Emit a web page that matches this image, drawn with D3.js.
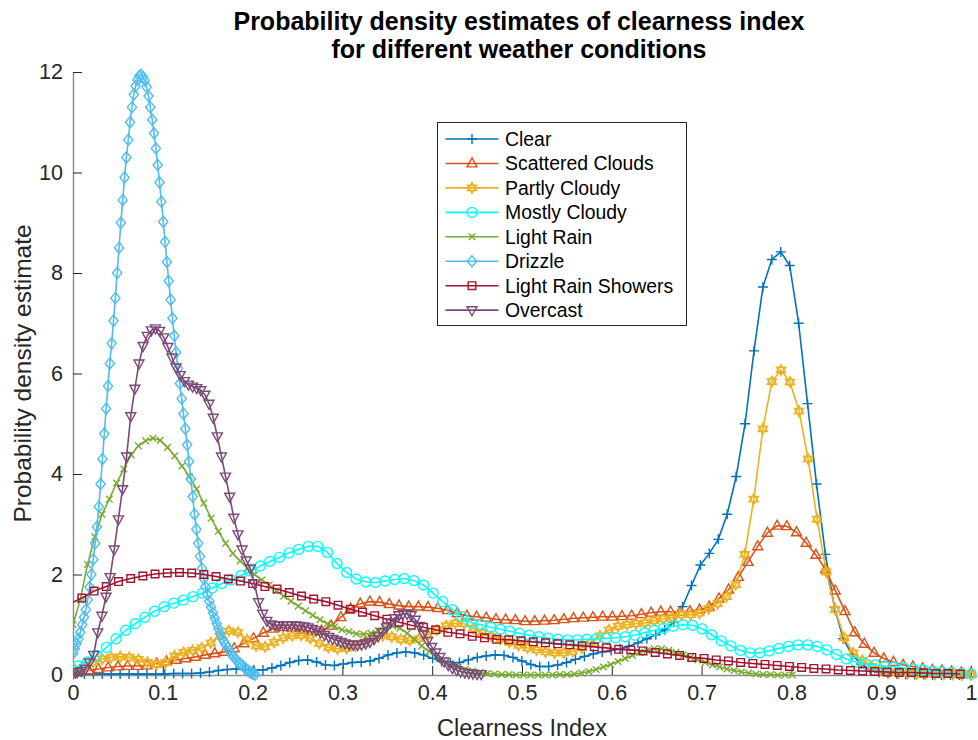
<!DOCTYPE html>
<html>
<head>
<meta charset="utf-8">
<script src="https://cdn.jsdelivr.net/npm/d3@7"></script>
<style>
  body { margin: 0; background: #fff; }
  text { font-family: "Liberation Sans", Arial, Helvetica, sans-serif; }
</style>
</head>
<body>
<svg id="chart" width="978" height="740"></svg>
<script>
// weather conditions, in plot order
const seriesNames = ["Clear", "Scattered Clouds", "Partly Cloudy", "Mostly Cloudy",
                     "Light Rain", "Drizzle", "Light Rain Showers", "Overcast"];
const seriesColors = ["#0072BD", "#D95319", "#EDB120", "#00FFFF",
                      "#77AC30", "#4DBEEE", "#A2142F", "#7B4A78"];
const seriesMarkers = ["plus", "triangle", "hexagram", "circle",
                       "cross", "diamond", "square", "triangleDown"];

// first / last point of each ksdensity evaluation grid (evenly spaced)
const clearRange = [0.0028, 0.987];
const scatteredRange = [-0.004, 1.0];
const partlyRange = [0.0023, 1.0];
const mostlyRange = [-0.0055, 1.0];
const lightRainRange = [0, 0.801];
const drizzleRange = [0, 0.203];
const showersRange = [-0.0037, 0.988];
const overcastRange = [0, 0.4546];

// density estimates
const clearY = [0.02,0.02,0.02,0.02,0.02,0.02,0.02,0.02,0.02,0.02,
  0.02,0.03,0.03,0.03,0.04,0.06,0.09,0.11,0.12,0.11,
  0.10,0.10,0.14,0.19,0.25,0.29,0.30,0.26,0.20,0.19,
  0.22,0.25,0.26,0.28,0.33,0.40,0.44,0.46,0.44,0.40,
  0.33,0.27,0.24,0.25,0.30,0.35,0.38,0.40,0.39,0.35,
  0.28,0.21,0.17,0.17,0.20,0.25,0.31,0.37,0.42,0.46,
  0.49,0.52,0.57,0.64,0.72,0.80,0.90,1.05,1.36,1.78,
  2.19,2.42,2.70,3.20,3.95,5.00,6.45,7.72,8.27,8.42,
  8.15,7.00,5.40,3.80,2.40,1.35,0.72,0.40,0.22,0.11,
  0.05,0.03,0.02,0.01,0.01,0.01,0.00,0.00,0.00,0.00];

const scatteredY = [0.02,0.05,0.09,0.12,0.15,0.17,0.18,0.18,0.19,0.23,
  0.27,0.30,0.33,0.36,0.40,0.43,0.46,0.53,0.63,0.73,
  0.84,0.92,0.95,0.94,0.90,0.86,0.88,0.98,1.15,1.32,
  1.42,1.46,1.45,1.41,1.38,1.36,1.36,1.35,1.33,1.29,
  1.23,1.18,1.16,1.14,1.11,1.10,1.09,1.07,1.07,1.08,
  1.09,1.11,1.13,1.14,1.15,1.16,1.16,1.17,1.18,1.21,
  1.24,1.26,1.26,1.26,1.27,1.30,1.36,1.52,1.70,1.95,
  2.25,2.56,2.83,2.97,2.96,2.84,2.63,2.39,2.10,1.68,
  1.27,0.85,0.62,0.44,0.33,0.26,0.20,0.17,0.13,0.10,
  0.09,0.07,0.05,0.04];

const partlyY = [0.10,0.15,0.25,0.32,0.35,0.36,0.35,0.31,0.25,0.21,
  0.25,0.38,0.45,0.49,0.54,0.64,0.78,0.88,0.85,0.70,
  0.58,0.56,0.65,0.74,0.78,0.79,0.73,0.63,0.55,0.52,
  0.53,0.58,0.66,0.74,0.78,0.76,0.71,0.69,0.72,0.80,
  0.90,0.98,1.03,1.02,0.93,0.84,0.77,0.71,0.65,0.59,
  0.54,0.50,0.46,0.44,0.44,0.47,0.54,0.65,0.78,0.90,
  0.97,1.00,1.02,1.04,1.08,1.12,1.15,1.20,1.20,1.23,
  1.32,1.42,1.56,1.80,2.40,3.50,4.90,5.84,6.07,5.83,
  5.25,4.30,3.10,2.05,1.30,0.74,0.44,0.29,0.17,0.11,
  0.06,0.04,0.03,0.02,0.02,0.01,0.01,0.01,0.00,0.00];

const mostlyY = [0.12,0.18,0.26,0.39,0.55,0.72,0.89,1.02,1.15,1.27,
  1.36,1.43,1.49,1.56,1.63,1.73,1.82,1.89,1.98,2.07,
  2.17,2.26,2.34,2.43,2.50,2.56,2.56,2.44,2.22,2.04,
  1.91,1.85,1.84,1.87,1.90,1.92,1.88,1.79,1.63,1.46,
  1.30,1.16,1.04,1.00,0.95,0.91,0.87,0.83,0.79,0.76,
  0.73,0.71,0.70,0.70,0.71,0.72,0.73,0.74,0.76,0.79,
  0.84,0.89,0.93,0.97,1.00,0.99,0.92,0.80,0.68,0.58,
  0.49,0.44,0.44,0.48,0.53,0.57,0.60,0.60,0.57,0.50,
  0.41,0.32,0.26,0.22,0.20,0.18,0.16,0.14,0.12,0.10,
  0.08,0.06,0.05,0.03,0.02];

const lightRainY = [1.00,1.50,2.20,2.75,3.20,3.50,3.82,4.10,4.38,4.56,
  4.66,4.71,4.67,4.53,4.36,4.16,3.95,3.70,3.42,3.12,
  2.86,2.62,2.42,2.27,2.13,2.00,1.89,1.79,1.68,1.57,
  1.47,1.37,1.28,1.19,1.10,1.02,0.96,0.90,0.86,0.82,
  0.81,0.83,0.88,0.94,0.97,0.93,0.83,0.71,0.58,0.47,
  0.37,0.29,0.22,0.16,0.11,0.08,0.05,0.03,0.02,0.01,
  0.01,0.00,0.00,0.00,0.00,0.00,0.00,0.01,0.01,0.02,
  0.04,0.07,0.11,0.16,0.21,0.27,0.33,0.39,0.45,0.49,
  0.52,0.52,0.49,0.45,0.40,0.35,0.30,0.25,0.20,0.16,
  0.12,0.09,0.06,0.04,0.02,0.01,0.01,0.00,0.00,0.00];

const drizzleY = [0.43,0.52,0.62,0.72,0.85,1.00,1.15,1.30,1.50,1.75,
  2.00,2.30,2.62,2.95,3.35,3.80,4.30,4.80,5.30,5.75,
  6.20,6.60,7.05,7.50,8.00,8.50,9.00,9.45,9.90,10.30,
  10.65,11.00,11.30,11.55,11.72,11.84,11.92,11.94,11.90,11.83,
  11.70,11.52,11.30,11.05,10.78,10.48,10.15,9.80,9.42,9.02,
  8.62,8.22,7.84,7.47,7.10,6.75,6.42,6.10,5.80,5.50,
  5.20,4.90,4.58,4.25,3.90,3.55,3.20,2.90,2.62,2.36,
  2.12,1.92,1.75,1.60,1.47,1.35,1.24,1.13,1.02,0.92,
  0.82,0.73,0.66,0.60,0.54,0.48,0.42,0.37,0.33,0.29,
  0.25,0.22,0.19,0.15,0.12,0.09,0.06,0.04,0.02,0.01];

const showersY = [1.42,1.53,1.67,1.76,1.86,1.92,1.97,2.01,2.03,2.04,
  2.03,2.00,1.96,1.91,1.87,1.82,1.76,1.71,1.64,1.57,
  1.51,1.46,1.39,1.31,1.25,1.18,1.11,1.05,0.99,0.95,
  0.90,0.85,0.82,0.77,0.74,0.71,0.70,0.68,0.66,0.64,
  0.62,0.60,0.58,0.56,0.54,0.51,0.50,0.48,0.45,0.42,
  0.39,0.35,0.33,0.30,0.28,0.25,0.23,0.21,0.19,0.17,
  0.15,0.13,0.12,0.10,0.09,0.08,0.07,0.06,0.05,0.05,
  0.04,0.03,0.03,0.02];

const overcastY = [0.03,0.06,0.08,0.12,0.25,0.40,0.85,1.18,1.56,1.95,
  2.50,3.10,3.70,4.35,5.15,5.70,6.20,6.55,6.75,6.86,
  6.90,6.85,6.72,6.53,6.32,6.12,5.97,5.85,5.78,5.74,
  5.71,5.67,5.58,5.40,5.12,4.75,4.35,3.95,3.55,3.13,
  2.80,2.50,2.28,2.12,1.82,1.45,1.22,1.08,1.01,0.99,
  0.99,0.99,0.99,0.99,0.99,0.98,0.97,0.95,0.92,0.89,
  0.85,0.80,0.76,0.72,0.69,0.66,0.63,0.61,0.60,0.60,
  0.61,0.63,0.66,0.71,0.77,0.86,0.95,1.05,1.13,1.19,
  1.22,1.22,1.19,1.10,0.98,0.82,0.68,0.56,0.45,0.36,
  0.27,0.20,0.14,0.10,0.07,0.05,0.04,0.03,0.02,0.02];

const xTicks = [0, 0.1, 0.2, 0.3, 0.4, 0.5, 0.6, 0.7, 0.8, 0.9, 1];
const yTicks = [0, 2, 4, 6, 8, 10, 12];

const ranges = [clearRange, scatteredRange, partlyRange, mostlyRange,
                lightRainRange, drizzleRange, showersRange, overcastRange];
const values = [clearY, scatteredY, partlyY, mostlyY,
                lightRainY, drizzleY, showersY, overcastY];

const series = seriesNames.map((name, k) => {
  const r = ranges[k], ys = values[k], n = ys.length;
  return {
    name: name,
    color: seriesColors[k],
    marker: seriesMarkers[k],
    points: ys.map((v, i) => ({ x: r[0] + i * (r[1] - r[0]) / (n - 1), y: v }))
  };
});

const margin = { top: 72, right: 7, bottom: 65, left: 73 },
      width = 978 - margin.left - margin.right,
      height = 740 - margin.top - margin.bottom;

const svg = d3.select("#chart");
const g = svg.append("g")
    .attr("transform", "translate(" + margin.left + "," + margin.top + ")");

const x = d3.scaleLinear().domain([0, 1]).range([0, width]);
const y = d3.scaleLinear().domain([0, 12]).range([height, 0]);

function markerPath(type) {
  switch (type) {
    case "plus": return "M-5,0H5M0,-5V5";
    case "triangle": return "M0,-5.6L5,3.4L-5,3.4Z";
    case "triangleDown": return "M0,5.6L5,-3.4L-5,-3.4Z";
    case "hexagram": return "M0,-5.4L4.6,2.7L-4.6,2.7ZM0,5.4L4.6,-2.7L-4.6,-2.7Z";
    case "circle": return "M5,0A5,5 0 1,1 -5,0A5,5 0 1,1 5,0Z";
    case "cross": return "M-3.3,-3.3L3.3,3.3M-3.3,3.3L3.3,-3.3";
    case "diamond": return "M0,-5.6L4.6,0L0,5.6L-4.6,0Z";
    case "square": return "M-3.8,-3.8H3.8V3.8H-3.8Z";
  }
}

// axes
const xAxis = g.append("g")
   .attr("transform", "translate(0," + height + ")")
   .call(d3.axisBottom(x).tickValues(xTicks).tickFormat(d3.format("~g"))
         .tickSizeInner(-9).tickSizeOuter(0).tickPadding(10));
const yAxis = g.append("g")
   .call(d3.axisLeft(y).tickValues(yTicks)
         .tickSizeInner(-9).tickSizeOuter(0).tickPadding(10));

[xAxis, yAxis].forEach(a => {
  a.select(".domain").attr("stroke", "#8a8a8a").attr("stroke-width", 1.4);
  a.selectAll(".tick line").attr("stroke", "#262626");
  a.selectAll(".tick text")
    .attr("fill", "#262626")
    .style("font-size", "21.5px")
    .style("font-family", "'Liberation Sans', Arial, sans-serif");
});

// clip like the axes box
svg.append("defs").append("clipPath").attr("id", "plotClip")
   .append("rect").attr("x", 0).attr("y", -10).attr("width", width + 8).attr("height", height + 20);

const plot = g.append("g").attr("clip-path", "url(#plotClip)");

const line = d3.line().x(d => x(d.x)).y(d => y(d.y));

series.forEach(s => {
  const sg = plot.append("g");
  sg.append("path")
    .datum(s.points)
    .attr("fill", "none")
    .attr("stroke", s.color)
    .attr("stroke-width", 1.6)
    .attr("d", line);
  sg.selectAll(".mk")
    .data(s.points.filter(d => d.x >= 0 && d.x <= 1.0005))
    .enter().append("path")
    .attr("class", "mk")
    .attr("transform", d => "translate(" + x(d.x) + "," + y(d.y) + ")")
    .attr("d", markerPath(s.marker))
    .attr("fill", "none")
    .attr("stroke", s.color)
    .attr("stroke-width", 1.4);
});

// legend
const legend = svg.append("g").attr("transform", "translate(437.5,122.5)");
legend.append("rect")
   .attr("width", 249).attr("height", 203)
   .attr("fill", "#fff").attr("stroke", "#262626").attr("stroke-width", 1);

const items = legend.selectAll(".item")
   .data(series)
   .enter().append("g")
   .attr("class", "item")
   .attr("transform", (d, i) => "translate(0," + (16.5 + i * 24.45) + ")");
items.append("line")
   .attr("x1", 8).attr("x2", 61)
   .attr("stroke", d => d.color).attr("stroke-width", 1.6);
items.append("path")
   .attr("transform", "translate(34.5,0)")
   .attr("d", d => markerPath(d.marker))
   .attr("fill", "none")
   .attr("stroke", d => d.color)
   .attr("stroke-width", 1.4);
items.append("text")
   .attr("x", 67.5).attr("y", 7)
   .attr("fill", "#000")
   .style("font-size", "19.4px")
   .text(d => d.name);

// titles
svg.append("text")
   .attr("x", 519).attr("y", 30)
   .attr("text-anchor", "middle")
   .style("font-size", "25px").style("font-weight", "bold")
   .text("Probability density estimates of clearness index");
svg.append("text")
   .attr("x", 519).attr("y", 58)
   .attr("text-anchor", "middle")
   .style("font-size", "25px").style("font-weight", "bold")
   .text("for different weather conditions");

svg.append("text")
   .attr("x", margin.left + width / 2).attr("y", 736)
   .attr("text-anchor", "middle")
   .attr("fill", "#262626")
   .style("font-size", "23.5px")
   .text("Clearness Index");

svg.append("text")
   .attr("transform", "translate(31," + (margin.top + height / 2) + ") rotate(-90)")
   .attr("text-anchor", "middle")
   .attr("fill", "#262626")
   .style("font-size", "24.5px")
   .text("Probability density estimate");
</script>
</body>
</html>
